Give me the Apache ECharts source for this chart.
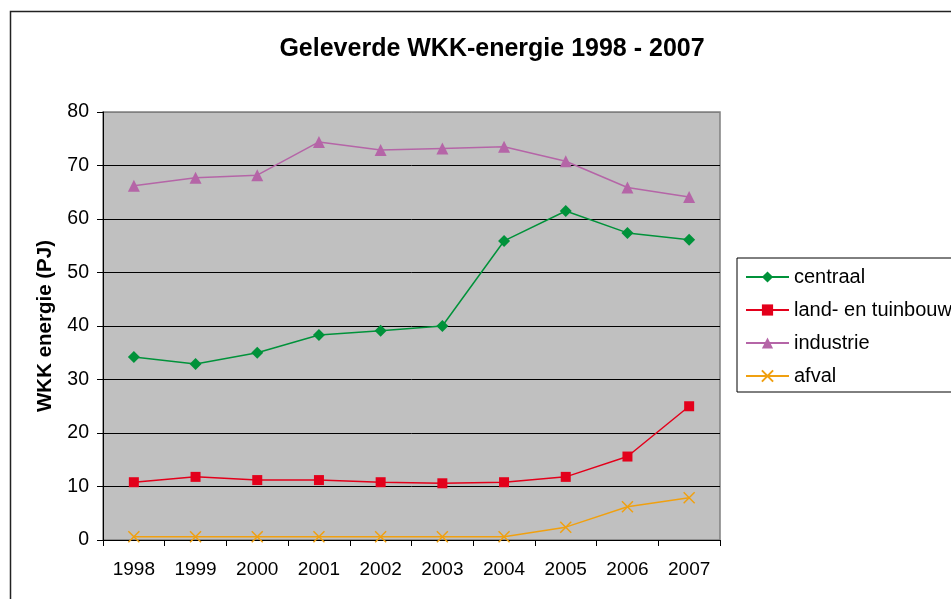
<!DOCTYPE html>
<html>
<head>
<meta charset="utf-8">
<script src="https://cdn.jsdelivr.net/npm/echarts@6/dist/echarts.min.js"></script>
<style>html,body{margin:0;padding:0;background:#fff;}#c{width:951px;height:599px;}</style>
</head>
<body>
<div id="c"></div>
<script>
var years = ['1998','1999','2000','2001','2002','2003','2004','2005','2006','2007'];
var centraal = [34.2, 32.9, 35.0, 38.3, 39.1, 40.0, 55.9, 61.5, 57.4, 56.1];
var landTuinbouw = [10.8, 11.8, 11.2, 11.2, 10.8, 10.6, 10.8, 11.8, 15.6, 25.0];
var industrie = [66.2, 67.7, 68.2, 74.4, 72.9, 73.2, 73.5, 70.8, 65.9, 64.1];
var afval = [0.6, 0.6, 0.6, 0.6, 0.6, 0.6, 0.6, 2.4, 6.2, 7.9];

var chart = echarts.init(document.getElementById('c'));
var font = 'Liberation Sans, Arial, sans-serif';
var gridColors = ['#000','#000','#000','#000','#000','#000','#000','#000','#808080'];
chart.setOption({
  animation: false,
  backgroundColor: '#fff',
  graphic: [{
    type: 'rect', left: 8, top: 9, shape: {width: 1200, height: 1000},
    style: {fill: 'none', stroke: '#222', lineWidth: 1.5}, z: -10
  }],
  title: {
    text: 'Geleverde WKK-energie 1998 - 2007',
    left: 487, top: 32, textAlign: 'center',
    textStyle: {fontFamily: font, fontSize: 25, fontWeight: 'bold', color: '#000'}
  },
  grid: {
    left: 103, top: 112, right: 231, bottom: 59,
    show: true, backgroundColor: '#c0c0c0', borderColor: '#808080', borderWidth: 1.5
  },
  legend: {
    left: 737, top: 258, orient: 'vertical',
    backgroundColor: '#fff', borderColor: '#000', borderWidth: 1,
    padding: [9, 20, 6, 8],
    itemWidth: 43, itemHeight: 14, itemGap: 13,
    textStyle: {fontFamily: font, fontSize: 20, color: '#000'},
    data: ['centraal', 'land- en tuinbouw', 'industrie', 'afval']
  },
  xAxis: {
    type: 'category', data: years, boundaryGap: true,
    axisLine: {lineStyle: {color: '#000', width: 1}},
    axisTick: {show: true, length: 6, lineStyle: {color: '#000'}},
    axisLabel: {fontFamily: font, fontSize: 19, color: '#000', margin: 20},
    splitLine: {show: false}
  },
  yAxis: {
    type: 'value', min: 0, max: 80, interval: 10,
    name: 'WKK energie (PJ)', nameLocation: 'middle', nameGap: 47,
    nameTextStyle: {fontFamily: font, fontSize: 20.5, fontWeight: 'bold', color: '#000'},
    axisLine: {show: true, lineStyle: {color: '#000', width: 1}},
    axisTick: {show: true, length: 6, lineStyle: {color: '#000'}},
    axisLabel: {fontFamily: font, fontSize: 19.5, color: '#000', margin: 14},
    splitLine: {show: true, lineStyle: {color: gridColors, width: 1}}
  },
  series: [
    {name: 'centraal', type: 'line', data: centraal, symbol: 'diamond', symbolSize: 12,
     lineStyle: {color: '#00923a', width: 1.5}, itemStyle: {color: '#00923a'}},
    {name: 'land- en tuinbouw', type: 'line', data: landTuinbouw, symbol: 'rect', symbolSize: 10,
     lineStyle: {color: '#e3001b', width: 1.5}, itemStyle: {color: '#e3001b'}},
    {name: 'industrie', type: 'line', data: industrie, symbol: 'triangle', symbolSize: 12,
     lineStyle: {color: '#b565a7', width: 1.5}, itemStyle: {color: '#b565a7'}},
    {name: 'afval', type: 'line', data: afval, symbol: 'path://M0,0L10,10M10,0L0,10', symbolSize: 11,
     lineStyle: {color: '#f0a010', width: 1.5}, itemStyle: {color: 'none', borderColor: '#f0a010', borderWidth: 1.5}}
  ]
});
</script>
</body>
</html>
